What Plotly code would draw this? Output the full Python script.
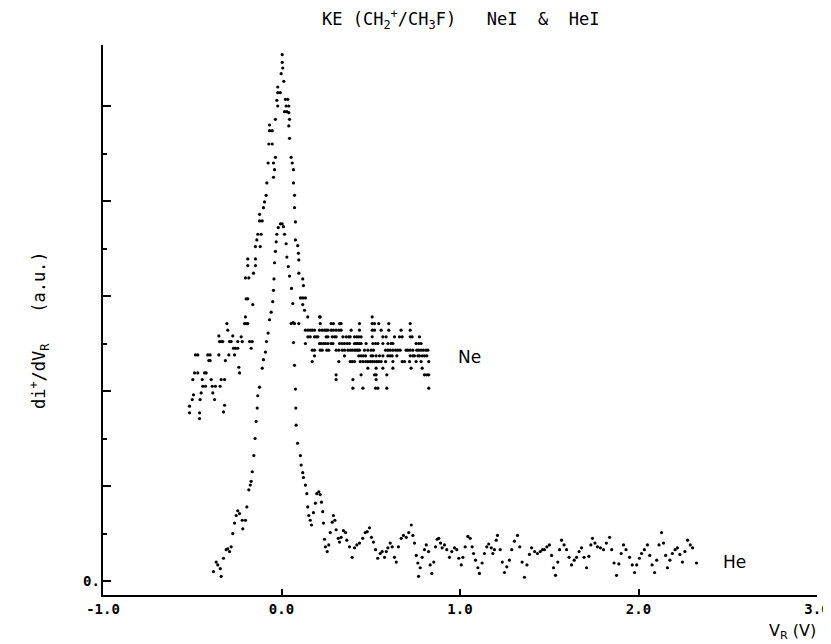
import plotly.graph_objects as go

# ---------------- data ----------------
# He I spectrum: retarding voltage V_R (V) and di+/dV_R (a.u.)
he_v = [-0.381, -0.366, -0.357, -0.343, -0.338, -0.325, -0.31, -0.301, -0.291, -0.282,
        -0.273, -0.263, -0.254, -0.245, -0.235, -0.22, -0.217, -0.202, -0.194, -0.183,
        -0.175, -0.17, -0.164, -0.155, -0.148, -0.142, -0.136, -0.133, -0.123, -0.108,
        -0.101, -0.09, -0.084, -0.075, -0.067, -0.058, -0.049, -0.045, -0.042, -0.039,
        -0.034, -0.030, -0.026, -0.018, -0.006, 0.004, 0.011, 0.017, 0.026, 0.030,
        0.038, 0.045, 0.056, 0.063, 0.065, 0.067, 0.073, 0.078, 0.080, 0.082,
        0.09, 0.106, 0.110, 0.119, 0.123, 0.134, 0.142, 0.147, 0.153, 0.161,
        0.168, 0.179, 0.190, 0.198, 0.209, 0.217, 0.224, 0.231, 0.235, 0.241,
        0.246, 0.256, 0.265, 0.273, 0.284, 0.291, 0.299, 0.306, 0.318, 0.325,
        0.334, 0.347, 0.359, 0.366, 0.381, 0.396, 0.409, 0.422, 0.437, 0.455,
        0.469, 0.48, 0.493, 0.504, 0.515, 0.527, 0.539, 0.553, 0.564, 0.577,
        0.587, 0.596, 0.609, 0.62, 0.633, 0.643, 0.655, 0.671, 0.683, 0.699,
        0.713, 0.727, 0.736, 0.745, 0.755, 0.764, 0.768, 0.777, 0.788, 0.801,
        0.811, 0.824, 0.833, 0.842, 0.853, 0.863, 0.872, 0.881, 0.891, 0.9,
        0.913, 0.926, 0.941, 0.954, 0.969, 0.982, 0.993, 1.007, 1.016, 1.029,
        1.044, 1.057, 1.068, 1.076, 1.087, 1.1, 1.109, 1.124, 1.137, 1.15,
        1.161, 1.175, 1.184, 1.193, 1.203, 1.21, 1.225, 1.237, 1.249, 1.262,
        1.277, 1.29, 1.305, 1.322, 1.335, 1.348, 1.361, 1.375, 1.389, 1.401,
        1.418, 1.434, 1.45, 1.462, 1.473, 1.487, 1.501, 1.513, 1.524, 1.535,
        1.548, 1.558, 1.569, 1.583, 1.597, 1.611, 1.625, 1.64, 1.653, 1.667,
        1.681, 1.695, 1.709, 1.722, 1.733, 1.742, 1.756, 1.770, 1.787, 1.804,
        1.82, 1.838, 1.85, 1.863, 1.877, 1.89, 1.903, 1.916, 1.93, 1.95,
        1.965, 1.978, 1.99, 2.005, 2.017, 2.033, 2.05, 2.063, 2.076, 2.09,
        2.102, 2.115, 2.129, 2.14, 2.152, 2.162, 2.176, 2.19, 2.205, 2.218,
        2.232, 2.246, 2.26, 2.275, 2.29, 2.303, 2.325]
he_i = [0.10, 0.20, 0.17, 0.13, 0.05, 0.24, 0.33, 0.34, 0.31, 0.36,
        0.50, 0.61, 0.69, 0.74, 0.71, 0.64, 0.55, 0.64, 0.78, 0.96,
        1.01, 1.05, 1.15, 1.32, 1.50, 1.68, 1.82, 1.95, 2.04, 2.24,
        2.33, 2.41, 2.52, 2.61, 2.75, 2.83, 2.94, 3.06, 3.18, 3.35,
        3.47, 3.57, 3.65, 3.72, 3.76, 3.76, 3.73, 3.65, 3.55, 3.41,
        3.31, 3.21, 3.08, 2.92, 2.72, 2.51, 2.27, 2.02, 1.82, 1.64,
        1.45, 1.32, 1.22, 1.14, 1.09, 1.01, 0.92, 0.78, 0.69, 0.64,
        0.59, 0.72, 0.82, 0.92, 0.94, 0.91, 0.83, 0.73, 0.61, 0.44,
        0.36, 0.31, 0.38, 0.51, 0.62, 0.69, 0.64, 0.54, 0.45, 0.41,
        0.46, 0.53, 0.51, 0.43, 0.36, 0.25, 0.35, 0.38, 0.40, 0.45,
        0.51, 0.52, 0.56, 0.46, 0.41, 0.33, 0.24, 0.29, 0.31, 0.25,
        0.31, 0.35, 0.40, 0.36, 0.25, 0.20, 0.36, 0.45, 0.48, 0.46,
        0.51, 0.59, 0.48, 0.40, 0.27, 0.19, 0.05, 0.14, 0.25, 0.33,
        0.38, 0.31, 0.17, 0.08, 0.20, 0.36, 0.44, 0.45, 0.40, 0.35,
        0.38, 0.33, 0.25, 0.31, 0.35, 0.33, 0.24, 0.17, 0.25, 0.36,
        0.47, 0.45, 0.36, 0.29, 0.22, 0.14, 0.08, 0.19, 0.29, 0.36,
        0.39, 0.35, 0.29, 0.33, 0.43, 0.48, 0.33, 0.20, 0.09, 0.15,
        0.22, 0.33, 0.42, 0.48, 0.36, 0.20, 0.04, 0.17, 0.28, 0.35,
        0.31, 0.29, 0.31, 0.33, 0.33, 0.36, 0.38, 0.27, 0.14, 0.06,
        0.20, 0.33, 0.43, 0.38, 0.33, 0.25, 0.17, 0.22, 0.25, 0.31,
        0.35, 0.25, 0.14, 0.26, 0.38, 0.45, 0.40, 0.36, 0.35, 0.33,
        0.40, 0.46, 0.33, 0.19, 0.06, 0.18, 0.29, 0.38, 0.33, 0.25,
        0.17, 0.09, 0.17, 0.24, 0.29, 0.33, 0.38, 0.27, 0.17, 0.09,
        0.22, 0.38, 0.51, 0.40, 0.27, 0.14, 0.22, 0.29, 0.33, 0.35,
        0.28, 0.20, 0.31, 0.43, 0.38, 0.35, 0.19]

# Ne I spectrum, low-energy side
ne_left_v = [-0.515, -0.515, -0.5, -0.493, -0.497, -0.487, -0.469, -0.482, -0.469, -0.459,
             -0.459, -0.456, -0.45, -0.444, -0.441, -0.431, -0.422, -0.426, -0.413, -0.407,
             -0.4, -0.4, -0.394, -0.388, -0.385, -0.375, -0.37, -0.351, -0.351, -0.347,
             -0.338, -0.329, -0.325, -0.319, -0.319, -0.338, -0.344, -0.314, -0.306, -0.301,
             -0.291, -0.295, -0.282, -0.273, -0.263, -0.269, -0.258, -0.245, -0.245, -0.239,
             -0.235, -0.226, -0.22, -0.207, -0.202, -0.198, -0.189, -0.179, -0.17, -0.164]
ne_left_i = [1.84, 1.77, 1.91, 1.96, 2.12, 2.19, 2.19, 2.38, 2.38, 1.77,
             1.71, 1.91, 1.98, 2.12, 2.05, 2.19, 2.19, 2.05, 2.38, 2.32,
             2.38, 2.32, 2.12, 2.05, 1.98, 1.91, 2.05, 2.38, 2.58, 2.52,
             2.52, 2.52, 1.78, 1.85, 2.12, 2.12, 2.05, 2.32, 2.71, 2.64,
             2.52, 2.38, 2.52, 2.58, 2.38, 2.45, 2.45, 2.52, 2.45, 2.25,
             2.19, 2.57, 2.52, 2.71, 2.78, 2.71, 2.71, 2.52, 2.45, 2.52]

# Ne I spectrum, peak
ne_peak_v = [-0.198, -0.189, -0.161, -0.202, -0.183, -0.157, -0.189, -0.146, -0.189, -0.146,
             -0.146, -0.138, -0.119, -0.133, -0.114, -0.123, -0.108, -0.123, -0.101, -0.095,
             -0.086, -0.082, -0.045, -0.039, -0.075, -0.045, -0.034, -0.052, -0.071, -0.067,
             -0.052, -0.067, -0.034, -0.021, -0.026, -0.021, -0.007, -0.021, 0.013, -0.002,
             0.007, 0.004, 0.004, 0.022, 0.035, 0.026, 0.041, 0.017, 0.030, 0.041,
             0.045, 0.041, 0.045, 0.054, 0.060, 0.067, 0.067, 0.073, 0.073, 0.078,
             0.078, 0.091, 0.095, 0.097, 0.097, 0.119, 0.123, 0.106, 0.119, 0.134,
             0.119, 0.129, 0.147, 0.217]
ne_peak_i = [2.97, 2.97, 2.91, 3.19, 3.19, 3.24, 3.32, 3.32, 3.39, 3.39,
             3.52, 3.59, 3.52, 3.65, 3.65, 3.79, 3.79, 3.86, 3.93, 3.99,
             4.06, 4.19, 4.25, 4.33, 4.40, 4.40, 4.46, 4.60, 4.60, 4.74,
             4.74, 4.80, 4.86, 5.00, 5.06, 5.14, 5.14, 5.20, 5.26, 5.34,
             5.40, 5.46, 5.54, 5.07, 5.07, 5.00, 5.00, 4.94, 4.94, 4.93,
             4.86, 4.79, 4.66, 4.46, 4.40, 4.33, 4.19, 4.06, 3.93, 3.78,
             3.59, 3.53, 3.45, 3.38, 3.24, 3.18, 3.11, 2.98, 2.98, 2.98,
             2.91, 2.85, 2.78, 2.78]

# Ne I spectrum, high-energy plateau
ne_right_v = [0.213, 0.508,
              0.054, 0.073, 0.097, 0.217, 0.278, 0.291, 0.325, 0.334, 0.437, 0.508, 0.521, 0.545, 0.601, 0.721,
              0.134, 0.148, 0.161, 0.172, 0.185, 0.213, 0.228, 0.241, 0.25, 0.26, 0.278, 0.291, 0.306, 0.321,
              0.334, 0.39, 0.437, 0.508, 0.521, 0.558, 0.601, 0.67, 0.721,
              0.148, 0.161, 0.185, 0.194, 0.204, 0.25, 0.26, 0.284, 0.297, 0.306, 0.344, 0.362, 0.377, 0.385,
              0.409, 0.422, 0.433, 0.446, 0.508, 0.568, 0.586, 0.633, 0.661, 0.676, 0.721, 0.732, 0.773,
              0.134, 0.213, 0.222, 0.235, 0.246, 0.26, 0.278, 0.288, 0.325, 0.34, 0.353, 0.368, 0.381, 0.409,
              0.418, 0.428, 0.437, 0.446, 0.474, 0.512, 0.527, 0.54, 0.568, 0.596, 0.614, 0.624, 0.754, 0.769,
              0.782,
              0.172, 0.185, 0.217, 0.228, 0.254, 0.265, 0.306, 0.321, 0.34, 0.353, 0.372, 0.385, 0.396, 0.409,
              0.418, 0.428, 0.437, 0.465, 0.484, 0.502, 0.515, 0.583, 0.596, 0.609, 0.624, 0.639, 0.652, 0.665,
              0.698, 0.708, 0.721, 0.736, 0.758, 0.769, 0.782, 0.795, 0.81, 0.82,
              0.185, 0.353, 0.433, 0.446, 0.459, 0.471, 0.502, 0.512, 0.53, 0.549, 0.568, 0.596, 0.609, 0.62,
              0.646, 0.721, 0.736, 0.745, 0.764, 0.773, 0.788, 0.801, 0.814,
              0.172, 0.321, 0.385, 0.396, 0.409, 0.441, 0.456, 0.471, 0.484, 0.497, 0.508, 0.521, 0.534, 0.545,
              0.558, 0.583, 0.624, 0.676, 0.689, 0.717, 0.754, 0.782, 0.825,
              0.484, 0.53, 0.568, 0.624, 0.726, 0.788,
              0.306, 0.446, 0.521, 0.53, 0.59, 0.801, 0.814, 0.825,
              0.306, 0.40, 0.53,
              0.40, 0.456, 0.527, 0.54, 0.59, 0.825]
ne_right_i = [2.78, 2.78,
              2.71, 2.71, 2.71, 2.71, 2.71, 2.71, 2.71, 2.71, 2.71, 2.71, 2.71, 2.71, 2.71, 2.71,
              2.64, 2.64, 2.64, 2.64, 2.64, 2.64, 2.64, 2.64, 2.64, 2.64, 2.64, 2.64, 2.64, 2.64,
              2.64, 2.64, 2.64, 2.64, 2.64, 2.64, 2.64, 2.64, 2.64,
              2.57, 2.57, 2.57, 2.57, 2.57, 2.57, 2.57, 2.57, 2.57, 2.57, 2.57, 2.57, 2.57, 2.57,
              2.57, 2.57, 2.57, 2.57, 2.57, 2.57, 2.57, 2.57, 2.57, 2.57, 2.57, 2.57, 2.57,
              2.50, 2.50, 2.50, 2.50, 2.50, 2.50, 2.50, 2.50, 2.50, 2.50, 2.50, 2.50, 2.50, 2.50,
              2.50, 2.50, 2.50, 2.50, 2.50, 2.50, 2.50, 2.50, 2.50, 2.50, 2.50, 2.50, 2.50, 2.50,
              2.50,
              2.43, 2.43, 2.43, 2.43, 2.43, 2.43, 2.43, 2.43, 2.43, 2.43, 2.43, 2.43, 2.43, 2.43,
              2.43, 2.43, 2.43, 2.43, 2.43, 2.43, 2.43, 2.43, 2.43, 2.43, 2.43, 2.43, 2.43, 2.43,
              2.43, 2.43, 2.43, 2.43, 2.43, 2.43, 2.43, 2.43, 2.43, 2.43,
              2.37, 2.37, 2.37, 2.37, 2.37, 2.37, 2.37, 2.37, 2.37, 2.37, 2.37, 2.37, 2.37, 2.37,
              2.37, 2.37, 2.37, 2.37, 2.37, 2.37, 2.37, 2.37, 2.37,
              2.31, 2.31, 2.31, 2.31, 2.31, 2.31, 2.31, 2.31, 2.31, 2.31, 2.31, 2.31, 2.31, 2.31,
              2.31, 2.31, 2.31, 2.31, 2.31, 2.31, 2.31, 2.31, 2.31,
              2.24, 2.24, 2.24, 2.24, 2.24, 2.24,
              2.17, 2.17, 2.17, 2.17, 2.17, 2.17, 2.17, 2.17,
              2.12, 2.12, 2.12,
              2.03, 2.03, 2.03, 2.03, 2.03, 2.03]

x_ticks = [-1.0, 0.0, 1.0, 2.0, 3.0]
x_tick_labels = ["-1.0", "0.0", "1.0", "2.0", "3.0"]
y_ticks = [0, 1, 2, 3, 4, 5]
y_zero_label = "0."
y_minor = [0.5, 1.5, 2.5, 3.5, 4.5]

# ---------------- figure ----------------
marker = dict(color="black", size=3.2, symbol="circle")
fig = go.Figure()
fig.add_trace(go.Scatter(x=he_v, y=he_i, mode="markers", marker=marker,
                         cliponaxis=False, showlegend=False))
fig.add_trace(go.Scatter(x=ne_left_v + ne_peak_v + ne_right_v,
                         y=ne_left_i + ne_peak_i + ne_right_i,
                         mode="markers", marker=marker,
                         cliponaxis=False, showlegend=False))

mono = "DejaVu Sans Mono"
fig.update_layout(
    template="none",
    width=831, height=644,
    margin=dict(l=95, r=22, t=37, b=57, pad=0, autoexpand=False),
    paper_bgcolor="white", plot_bgcolor="white",
    showlegend=False,
    xaxis=dict(range=[-1.0, 3.0], showgrid=False, zeroline=False, automargin=False,
               showline=True, linecolor="black", linewidth=2,
               ticks="inside", ticklen=6, tickwidth=2, tickcolor="black",
               tickvals=x_ticks, ticktext=["<b>%s</b>" % t for t in x_tick_labels],
               tickfont=dict(family=mono, size=14, color="black")),
    yaxis=dict(range=[-0.147, 5.642], showgrid=False, zeroline=False, automargin=False,
               showline=True, linecolor="black", linewidth=2,
               ticks="inside", ticklen=8, tickwidth=2, tickcolor="black",
               tickvals=y_ticks, showticklabels=False,
               minor=dict(tickvals=y_minor, ticks="inside", ticklen=4,
                          tickwidth=2, tickcolor="black")),
)

fig.add_annotation(text="<b>%s</b>" % y_zero_label, xref="paper", yref="y",
                   x=-0.001, y=0, xanchor="right", yanchor="middle", showarrow=False,
                   font=dict(family=mono, size=14, color="black"))
fig.add_annotation(text="KE (CH<sub>2</sub><sup>+</sup>/CH<sub>3</sub>F)   NeI  &  HeI",
                   xref="paper", yref="paper", x=0.501, y=1.046,
                   xanchor="center", yanchor="middle", showarrow=False,
                   font=dict(family=mono, size=17, color="black"))
fig.add_annotation(text="di<sup>+</sup>/dV<sub>R</sub>   (a.u.)",
                   xref="paper", yref="paper", x=-0.088, y=0.482, textangle=-90,
                   xanchor="center", yanchor="middle", showarrow=False,
                   font=dict(family=mono, size=17, color="black"))
fig.add_annotation(text="V<sub>R</sub> (V)",
                   xref="paper", yref="paper", x=0.965, y=-0.067,
                   xanchor="center", yanchor="middle", showarrow=False,
                   font=dict(family="DejaVu Sans", size=16, color="black"))
fig.add_annotation(text="Ne", x=1.053, y=2.36, xref="x", yref="y",
                   xanchor="center", yanchor="middle", showarrow=False,
                   font=dict(family="DejaVu Sans", size=17, color="black"))
fig.add_annotation(text="He", x=2.538, y=0.20, xref="x", yref="y",
                   xanchor="center", yanchor="middle", showarrow=False,
                   font=dict(family="DejaVu Sans", size=17, color="black"))

fig.write_html("out.html")
